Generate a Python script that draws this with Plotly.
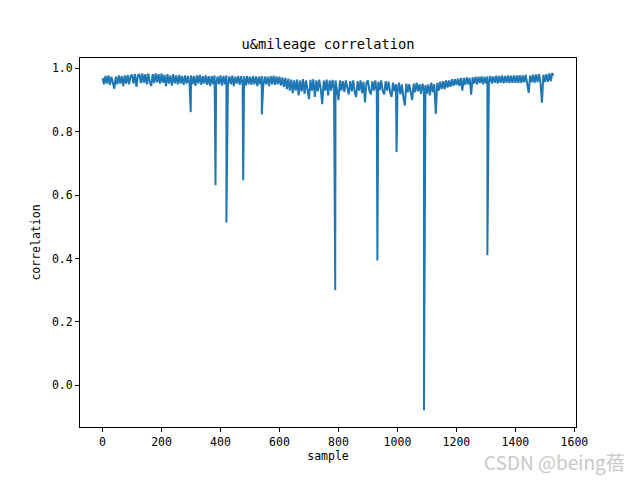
import plotly.graph_objects as go

# baseline correlation, one reading every 5 samples (0 .. 1525), plus the last sample
base_step = 5
base_corr = [
    0.970, 0.950, 0.976, 0.952, 0.978, 0.948, 0.974, 0.950, 0.936, 0.974, 0.950, 0.978, 0.952, 0.976, 0.944, 0.978, 0.952, 0.980, 0.950, 0.976,
    0.980, 0.952, 0.982, 0.942, 0.978, 0.982, 0.954, 0.984, 0.955, 0.982, 0.950, 0.984, 0.956, 0.945, 0.982, 0.954, 0.984, 0.956, 0.982, 0.952,
    0.984, 0.955, 0.980, 0.944, 0.982, 0.952, 0.978, 0.946, 0.982, 0.953, 0.978, 0.950, 0.980, 0.952, 0.976, 0.948, 0.978, 0.952, 0.976, 0.950,
    0.978, 0.950, 0.976, 0.945, 0.978, 0.952, 0.980, 0.948, 0.976, 0.952, 0.978, 0.948, 0.976, 0.944, 0.976, 0.950, 0.978, 0.948, 0.975, 0.950,
    0.978, 0.946, 0.976, 0.950, 0.978, 0.948, 0.975, 0.950, 0.977, 0.944, 0.974, 0.952, 0.976, 0.948, 0.976, 0.950, 0.975, 0.946, 0.976, 0.950,
    0.974, 0.948, 0.976, 0.950, 0.975, 0.944, 0.974, 0.950, 0.976, 0.946, 0.975, 0.950, 0.974, 0.944, 0.976, 0.950, 0.977, 0.948, 0.975, 0.950,
    0.974, 0.946, 0.972, 0.942, 0.970, 0.935, 0.968, 0.930, 0.965, 0.922, 0.962, 0.930, 0.965, 0.915, 0.962, 0.928, 0.966, 0.920, 0.962, 0.928,
    0.903, 0.964, 0.930, 0.966, 0.910, 0.962, 0.928, 0.965, 0.935, 0.887, 0.962, 0.930, 0.965, 0.915, 0.962, 0.930, 0.964, 0.935, 0.962, 0.925,
    0.900, 0.962, 0.930, 0.960, 0.925, 0.962, 0.935, 0.918, 0.960, 0.928, 0.962, 0.925, 0.910, 0.960, 0.930, 0.962, 0.922, 0.958, 0.893, 0.955,
    0.962, 0.928, 0.918, 0.960, 0.930, 0.962, 0.925, 0.958, 0.932, 0.962, 0.928, 0.918, 0.960, 0.930, 0.958, 0.925, 0.910, 0.955, 0.928, 0.950,
    0.922, 0.955, 0.918, 0.950, 0.910, 0.883, 0.952, 0.925, 0.950, 0.920, 0.900, 0.952, 0.925, 0.955, 0.928, 0.950, 0.920, 0.952, 0.928, 0.948,
    0.920, 0.950, 0.915, 0.955, 0.925, 0.950, 0.856, 0.955, 0.930, 0.958, 0.935, 0.960, 0.935, 0.962, 0.940, 0.962, 0.942, 0.966, 0.945, 0.966,
    0.948, 0.968, 0.945, 0.970, 0.930, 0.970, 0.948, 0.972, 0.950, 0.970, 0.917, 0.972, 0.952, 0.974, 0.950, 0.974, 0.954, 0.975, 0.950, 0.974,
    0.952, 0.975, 0.954, 0.976, 0.952, 0.975, 0.955, 0.977, 0.952, 0.976, 0.955, 0.978, 0.953, 0.976, 0.955, 0.978, 0.954, 0.977, 0.955, 0.978,
    0.955, 0.978, 0.954, 0.979, 0.955, 0.978, 0.956, 0.980, 0.955, 0.923, 0.978, 0.956, 0.980, 0.955, 0.981, 0.957, 0.982, 0.955, 0.892, 0.980,
    0.957, 0.982, 0.958, 0.984, 0.960, 0.985,
]
last_sample = 1529
last_corr = 0.978

# isolated deep drops
spike_sample = [299, 383, 420, 477, 540, 786, 789, 932, 995, 997, 1090, 1305]
spike_corr = [0.862, 0.631, 0.514, 0.647, 0.855, 0.595, 0.300, 0.394, 0.830, 0.736, -0.079, 0.410]

x_ticks = [0, 200, 400, 600, 800, 1000, 1200, 1400, 1600]
y_ticks = [0.0, 0.2, 0.4, 0.6, 0.8, 1.0]

points = [(i * base_step, v) for i, v in enumerate(base_corr)]
points.append((last_sample, last_corr))
points += list(zip(spike_sample, spike_corr))
points.sort(key=lambda p: p[0])
sample = [p[0] for p in points]
corr = [p[1] for p in points]

mono = "DejaVu Sans Mono"

fig = go.Figure()
fig.add_trace(
    go.Scatter(
        x=sample,
        y=corr,
        mode='lines',
        line=dict(color='#1f77b4', width=2),
        showlegend=False
    )
)

axis_common = dict(
    showline=True,
    linecolor='black',
    linewidth=1,
    mirror=True,
    ticks='outside',
    ticklen=4,
    tickcolor='black',
    showgrid=False,
    zeroline=False,
    automargin=False,
    tickfont=dict(family=mono, size=11.5, color='black'),
)

fig.update_xaxes(
    range=[-76.5, 1605.5],
    tickvals=x_ticks,
    title=dict(text='sample', font=dict(family=mono, size=11.5, color='black'), standoff=4),
    **axis_common
)
fig.update_yaxes(
    range=[-0.132, 1.033],
    tickvals=y_ticks,
    tickformat='.1f',
    title=dict(text='correlation', font=dict(family=mono, size=11.5, color='black'), standoff=8),
    **axis_common
)

fig.update_layout(
    width=640,
    height=480,
    margin=dict(l=80, r=64, t=58, b=53),
    plot_bgcolor='white',
    paper_bgcolor='white',
    title=dict(
        text='u&mileage correlation',
        font=dict(family=mono, size=13.7, color='black'),
        x=0.5, xref='paper', xanchor='center',
        y=1 - 44 / 480, yref='container', yanchor='middle'
    ),
)

fig.add_annotation(
    text='CSDN @being蓓',
    xref='paper', yref='paper',
    x=0.81, y=-0.094,
    xanchor='left', yanchor='middle',
    showarrow=False,
    font=dict(family='Noto Sans CJK SC', size=19, color='#c8c8c8')
)

# drop the browser's default body margin so the figure sits at the page origin
fig.write_html(
    "out.html",
    config={'displayModeBar': False},
    post_script="document.body.style.margin='0';"
)
